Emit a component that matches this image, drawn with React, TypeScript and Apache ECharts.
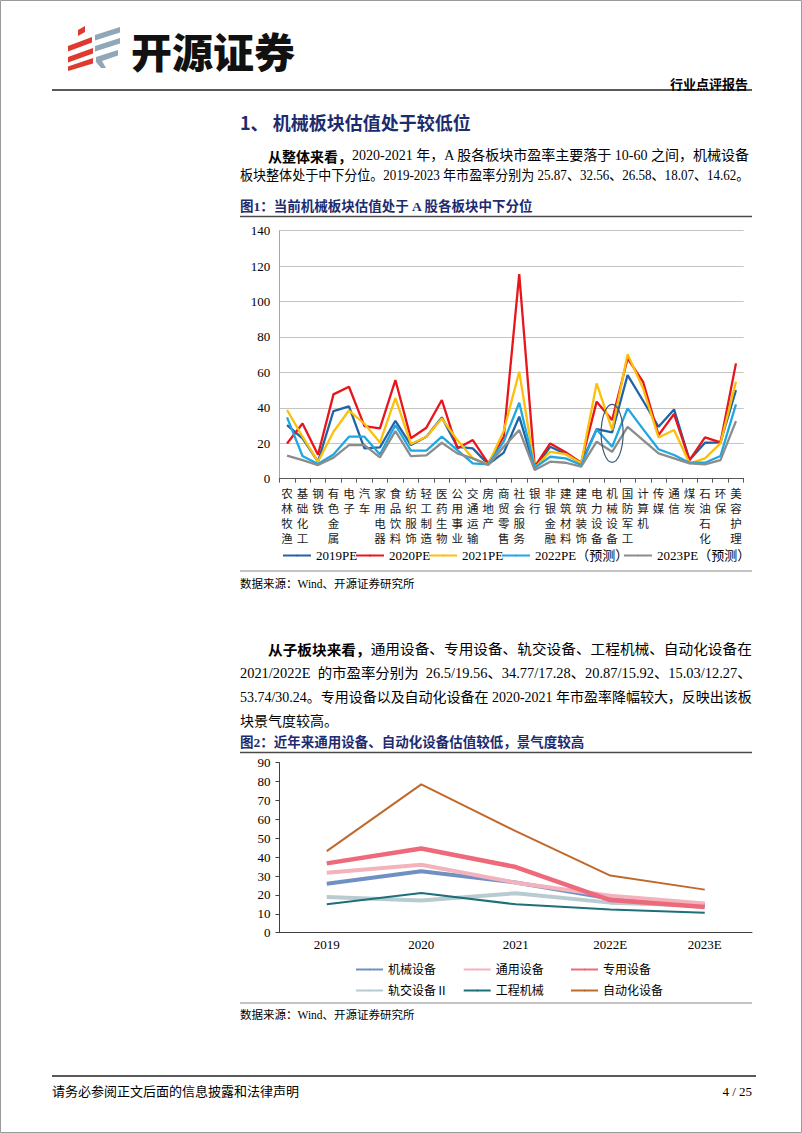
import React, { useEffect, useRef } from "react";
import * as echarts from "echarts";

// ---------- Data: figure 1 ----------
const industries = [
  "农林牧渔", "基础化工", "钢铁", "有色金属", "电子", "汽车", "家用电器", "食品饮料",
  "纺织服饰", "轻工制造", "医药生物", "公用事业", "交通运输", "房地产", "商贸零售", "社会服务",
  "银行", "非银金融", "建筑材料", "建筑装饰", "电力设备", "机械设备", "国防军工", "计算机",
  "传媒", "通信", "煤炭", "石油石化", "环保", "美容护理",
];
const pe2019 = [30.3, 22.8, 9.6, 38.2, 40.8, 17.1, 17.7, 32.7, 19.0, 23.7, 34.6, 18.0, 17.1, 8.1, 14.7, 35.0, 5.8, 18.0, 13.9, 8.7, 28.0, 26.1, 58.5, 44.0, 29.3, 39.1, 10.5, 20.3, 20.5, 50.0];
const pe2020 = [19.9, 31.2, 13.5, 47.6, 51.9, 29.7, 28.4, 55.7, 22.8, 28.8, 44.4, 17.1, 21.8, 8.7, 23.7, 115.5, 6.8, 19.9, 15.0, 9.0, 43.5, 33.1, 67.9, 54.7, 24.6, 36.5, 10.5, 23.3, 20.5, 65.1];
const pe2021 = [38.8, 23.7, 9.6, 26.5, 38.5, 31.0, 20.4, 45.5, 19.6, 23.7, 34.0, 21.8, 11.5, 8.1, 27.0, 60.4, 6.2, 15.2, 13.9, 8.7, 53.8, 27.5, 70.2, 51.0, 23.3, 27.5, 8.7, 11.5, 19.9, 54.7];
const pe2022 = [34.6, 12.8, 8.3, 13.7, 23.7, 23.7, 13.7, 30.3, 15.8, 15.8, 23.7, 16.2, 8.7, 8.1, 20.9, 42.9, 6.2, 12.4, 11.5, 7.7, 27.8, 18.0, 39.7, 28.0, 16.6, 13.4, 9.0, 9.0, 12.8, 42.0];
const pe2023 = [13.0, 10.5, 7.7, 11.9, 19.0, 19.0, 12.0, 26.9, 12.8, 13.2, 20.3, 14.3, 11.5, 7.7, 18.0, 27.5, 4.9, 9.6, 9.0, 6.8, 20.9, 15.2, 29.3, 21.8, 14.3, 11.5, 8.7, 8.1, 10.5, 32.5];
const seriesNames1 = ["2019PE", "2020PE", "2021PE", "2022PE（预测）", "2023PE（预测）"];
const highlightIndustry = "机械设备";
const highlightValue = 25.6;

// ---------- Data: figure 2 ----------
const years = ["2019", "2020", "2021", "2022E", "2023E"];
const jixie = [25.87, 32.56, 26.58, 18.07, 14.62];
const tongyong = [31.8, 36.0, 26.5, 19.56, 15.4];
const zhuanyong = [36.7, 44.6, 34.77, 17.28, 13.6];
const guijiao = [18.9, 17.1, 20.87, 15.92, 14.3];
const gongcheng = [15.0, 21.0, 15.03, 12.27, 10.6];
const zidonghua = [43.2, 78.5, 53.74, 30.24, 22.8];
const seriesNames2 = ["机械设备", "通用设备", "专用设备", "轨交设备Ⅱ", "工程机械", "自动化设备"];

const SERIF = '"Liberation Serif", "Noto Sans CJK SC", serif';
const CJK = '"Noto Sans CJK SC", sans-serif';
const NAVY = "#1d2b6f";

function txt(id: string, x: number, y: number, text: string, opts: any = {}) {
  return {
    type: "text",
    id,
    x,
    y,
    z: 10,
    scaleX: opts.scaleX || 1,
    style: {
      text,
      fill: opts.fill || "#000",
      fontSize: opts.fontSize || 14,
      fontFamily: opts.fontFamily || SERIF,
      fontWeight: opts.fontWeight || "normal",
      align: opts.align || "left",
      verticalAlign: "middle",
    },
  };
}
function hline(id: string, x1: number, x2: number, y: number, stroke: string, w: number) {
  return { type: "line", id, z: 5, shape: { x1, y1: y, x2, y2: y }, style: { stroke, lineWidth: w } };
}

let measureCtx: CanvasRenderingContext2D | null = null;
function measure(text: string, size: number, family: string, weight: string) {
  if (!measureCtx) measureCtx = document.createElement("canvas").getContext("2d");
  measureCtx!.font = `${weight} ${size}px ${family}`;
  return measureCtx!.measureText(text).width;
}

// a paragraph line spread between x0 and x1 (like justified text)
function justified(id: string, x0: number, x1: number | null, y: number, parts: { t: string; bold?: boolean }[]) {
  const size = 14;
  const specs = parts.map((p) => {
    const family = p.bold ? CJK : SERIF;
    const weight = p.bold ? "bold" : "normal";
    return { ...p, family, weight, w: measure(p.t, size, family, weight) };
  });
  const total = specs.reduce((s, p) => s + p.w, 0);
  const scale = x1 == null ? 1 : (x1 - x0) / total;
  const out: any[] = [];
  let x = x0;
  specs.forEach((p, i) => {
    out.push(txt(`${id}_${i}`, x, y, p.t, { fontSize: size, fontFamily: p.family, fontWeight: p.weight, scaleX: scale }));
    x += p.w * scale;
  });
  return out;
}

export default function App() {
  const ref = useRef<HTMLDivElement>(null);
  useEffect(() => {
    if (!ref.current) return;
    const chart = echarts.init(ref.current, null, { renderer: "svg" });
    const axisLabelSerif = { fontFamily: SERIF, fontSize: 13, color: "#000" };
    const mkLine = (name: string, data: number[], color: string, width: number, xi: number) => ({
      type: "line",
      name,
      data,
      xAxisIndex: xi,
      yAxisIndex: xi,
      symbol: "none",
      lineStyle: { color, width },
      itemStyle: { color },
    });
    const leg1 = (name: string, left: number) => ({
      data: [name],
      left,
      top: 549,
      itemWidth: 28,
      itemHeight: 2,
      padding: 0,
      textStyle: { fontFamily: SERIF, fontSize: 13, color: "#000" },
    });
    const leg2 = (names: string[], left: number) => ({
      data: names,
      orient: "vertical",
      left,
      top: 962,
      itemGap: 6,
      itemWidth: 27,
      itemHeight: 2,
      padding: 0,
      textStyle: { fontFamily: SERIF, fontSize: 12, color: "#000", lineHeight: 15 },
    });
    const option: any = {
      animation: false,
      backgroundColor: "#fff",
      grid: [
        { left: 279.3, right: 58.3, top: 230.7, bottom: 654.3 },
        { left: 279.5, right: 50, top: 762.7, bottom: 200.3 },
      ],
      xAxis: [
        {
          type: "category",
          gridIndex: 0,
          data: industries,
          boundaryGap: true,
          axisLine: { lineStyle: { color: "#595959", width: 1 } },
          axisTick: { show: true, length: 4, lineStyle: { color: "#595959" } },
          axisLabel: {
            interval: 0,
            margin: 7,
            fontFamily: CJK,
            fontSize: 11.5,
            lineHeight: 15,
            color: "#1a1a1a",
            formatter: (v: string) => v.split("").join("\n"),
          },
        },
        {
          type: "category",
          gridIndex: 1,
          data: years,
          boundaryGap: true,
          axisLine: { lineStyle: { color: "#404040", width: 1 } },
          axisTick: { show: false },
          axisLabel: { margin: 5, ...axisLabelSerif },
        },
      ],
      yAxis: [
        {
          type: "value",
          gridIndex: 0,
          min: 0,
          max: 140,
          interval: 20,
          axisLine: { show: true, lineStyle: { color: "#a6a6a6" } },
          axisTick: { show: false },
          splitLine: { lineStyle: { color: "#c4c4c4", width: 1 } },
          axisLabel: { margin: 9, ...axisLabelSerif },
        },
        {
          type: "value",
          gridIndex: 1,
          min: 0,
          max: 90,
          interval: 10,
          axisLine: { show: true, lineStyle: { color: "#404040" } },
          axisTick: { show: true, length: 4, lineStyle: { color: "#404040" } },
          splitLine: { show: false },
          axisLabel: { margin: 9, ...axisLabelSerif },
        },
      ],
      legend: [
        leg1(seriesNames1[0], 282),
        leg1(seriesNames1[1], 355),
        leg1(seriesNames1[2], 428),
        leg1(seriesNames1[3], 501),
        leg1(seriesNames1[4], 623),
        leg2([seriesNames2[0], seriesNames2[3]], 355),
        leg2([seriesNames2[1], seriesNames2[4]], 462.7),
        leg2([seriesNames2[2], seriesNames2[5]], 570),
      ],
      series: [
        mkLine(seriesNames1[0], pe2019, "#1f63a8", 2.3, 0),
        mkLine(seriesNames1[1], pe2020, "#e8151b", 2.3, 0),
        mkLine(seriesNames1[2], pe2021, "#fcbf0a", 2.3, 0),
        mkLine(seriesNames1[3], pe2022, "#1fa7e1", 2.3, 0),
        mkLine(seriesNames1[4], pe2023, "#8c8c8c", 2.3, 0),
        mkLine(seriesNames2[3], guijiao, "#b7cbd1", 4, 1),
        mkLine(seriesNames2[4], gongcheng, "#1d6f7a", 2, 1),
        mkLine(seriesNames2[0], jixie, "#7090c4", 4, 1),
        mkLine(seriesNames2[1], tongyong, "#f4b2bc", 4, 1),
        mkLine(seriesNames2[2], zhuanyong, "#ee6a7b", 4.5, 1),
        mkLine(seriesNames2[5], zidonghua, "#c0692c", 2, 1),
      ],
    };
    chart.setOption(option);

    const c = chart.convertToPixel({ gridIndex: 0 }, [highlightIndustry, highlightValue]) as number[];

    const red = "#de3a30";
    const blue = "#8fa7b8";
    const graphic: any[] = [
      { type: "rect", id: "border", z: 1, shape: { x: 0.5, y: 0.5, width: 801, height: 1132 }, style: { fill: "none", stroke: "#9a9a9a", lineWidth: 1 } },
      // logo
      { type: "polygon", id: "r0", z: 10, shape: { points: [[78, 30], [85, 26], [85, 32], [78, 36]] }, style: { fill: red } },
      { type: "polygon", id: "r1", z: 10, shape: { points: [[68, 46], [92, 37], [92, 42.5], [68, 51.5]] }, style: { fill: red } },
      { type: "polygon", id: "r2", z: 10, shape: { points: [[68, 57], [93, 48], [93, 53.5], [68, 62.5]] }, style: { fill: red } },
      { type: "polygon", id: "r3", z: 10, shape: { points: [[68, 66.5], [93, 58], [93, 63.5], [68, 71]] }, style: { fill: red } },
      { type: "polygon", id: "b1", z: 10, shape: { points: [[95, 35], [120, 27], [120, 32.5], [95, 40.5]] }, style: { fill: blue } },
      { type: "polygon", id: "b2", z: 10, shape: { points: [[95, 46], [120, 38], [120, 43.5], [95, 51.5]] }, style: { fill: blue } },
      { type: "polygon", id: "b3", z: 10, shape: { points: [[96, 57], [118, 50], [118, 55.5], [102, 61], [106, 68], [101, 68], [96, 62]] }, style: { fill: blue } },
      txt("brand", 131, 50, "开源证券", { fontFamily: CJK, fontSize: 41, fontWeight: 900, fill: "#111" }),
      txt("rtype", 748, 83, "行业点评报告", { fontFamily: CJK, fontSize: 13, fontWeight: "bold", align: "right" }),
      hline("hl1", 52, 752, 90, "#5a5a5a", 2),
      txt("sec", 240, 122, "1、 机械板块估值处于较低位", { fontFamily: CJK, fontSize: 18, fontWeight: "bold", fill: NAVY }),
      ...justified("p1a", 268, 750, 156, [
        { t: "从整体来看，", bold: true },
        { t: "2020-2021 年，A 股各板块市盈率主要落于 10-60 之间，机械设备" },
      ]),
      ...justified("p1b", 240, 750, 175, [
        { t: "板块整体处于中下分位。2019-2023 年市盈率分别为 25.87、32.56、26.58、18.07、14.62。" },
      ]),
      txt("f1", 240, 206, "图1：当前机械板块估值处于 A 股各板块中下分位", { fontFamily: SERIF, fontSize: 13.5, fontWeight: "bold", fill: NAVY }),
      hline("hl2", 240, 752, 216.5, "#4a4a4a", 1.5),
      hline("hl3", 240, 752, 571, "#8a8a8a", 1),
      txt("src1", 240, 584, "数据来源：Wind、开源证券研究所", { fontSize: 11.5 }),
      ...justified("p2a", 268, 752, 649, [
        { t: "从子板块来看，", bold: true },
        { t: "通用设备、专用设备、轨交设备、工程机械、自动化设备在" },
      ]),
      ...justified("p2b", 240, 752, 673, [
        { t: "2021/2022E  的市盈率分别为  26.5/19.56、34.77/17.28、20.87/15.92、15.03/12.27、" },
      ]),
      ...justified("p2c", 240, 752, 697, [
        { t: "53.74/30.24。专用设备以及自动化设备在 2020-2021 年市盈率降幅较大，反映出该板" },
      ]),
      ...justified("p2d", 240, null, 721, [{ t: "块景气度较高。" }]),
      txt("f2", 240, 742, "图2：近年来通用设备、自动化设备估值较低，景气度较高", { fontSize: 13.5, fontWeight: "bold", fill: NAVY }),
      hline("hl4", 240, 752, 752.5, "#4a4a4a", 1.5),
      hline("hl5", 240, 752, 1003, "#8a8a8a", 1),
      txt("src2", 240, 1015, "数据来源：Wind、开源证券研究所", { fontSize: 11.5 }),
      hline("hl6", 52, 756, 1076, "#222", 1.5),
      txt("foot", 52, 1091, "请务必参阅正文后面的信息披露和法律声明", { fontSize: 13 }),
      txt("page", 752, 1091, "4 / 25", { fontSize: 13, align: "right" }),
      {
        type: "ellipse",
        id: "hl-ellipse",
        z: 20,
        shape: { cx: c[0], cy: c[1], rx: 11, ry: 29 },
        style: { fill: "none", stroke: "#3d5677", lineWidth: 1.2 },
      },
    ];
    chart.setOption({ graphic });
    return () => chart.dispose();
  }, []);
  return (
    <div
      ref={ref}
      style={{ position: "fixed", left: 0, top: 0, width: 802, height: 1133, background: "#fff" }}
    />
  );
}
